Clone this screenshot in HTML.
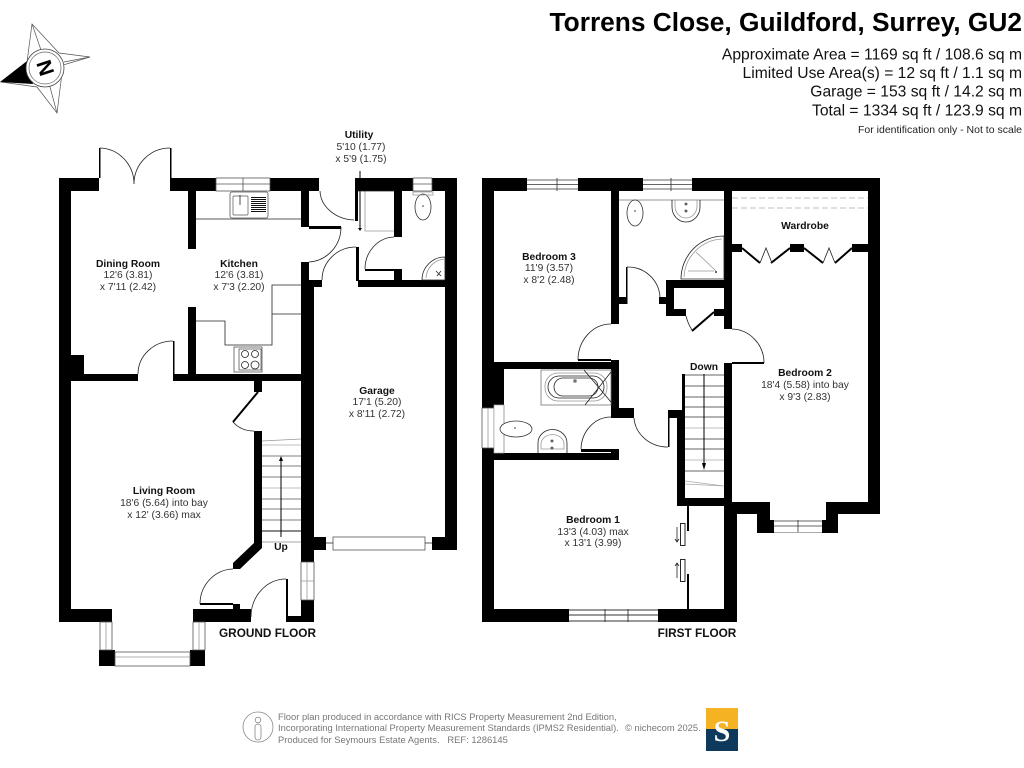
<!DOCTYPE html>
<html><head><meta charset="utf-8">
<style>
html,body{margin:0;padding:0;background:#fff}
svg{display:block}
text{font-family:"Liberation Sans",sans-serif;fill:#222}
.r text{font-size:10.3px;text-anchor:middle;fill:#333}
.b{font-weight:bold;fill:#111!important}
.h text{font-size:15.65px;text-anchor:end;fill:#111}
.f text{font-size:9.4px;fill:#777}
.w rect,.w polygon{fill:#000}
.t{fill:none;stroke:#222;stroke-width:.8}
.g{fill:none;stroke:#999;stroke-width:.8}
.k{fill:none;stroke:#000;stroke-width:1}
.win{fill:#fff;stroke:#555;stroke-width:.8}
</style></head><body>
<svg width="1024" height="768" viewBox="0 0 1024 768" xmlns="http://www.w3.org/2000/svg">
<rect width="1024" height="768" fill="#fff"/>

<!-- Title -->
<text x="1022" y="31" text-anchor="end" font-size="26.3" font-weight="bold" style="fill:#000">Torrens Close, Guildford, Surrey, GU2</text>
<g class="h">
<text x="1022" y="59.5">Approximate Area = 1169 sq ft / 108.6 sq m</text>
<text x="1022" y="78">Limited Use Area(s) = 12 sq ft / 1.1 sq m</text>
<text x="1022" y="96.500">Garage = 153 sq ft / 14.2 sq m</text>
<text x="1022" y="115.500">Total = 1334 sq ft / 123.9 sq m</text>
</g>
<text x="1022" y="133" text-anchor="end" font-size="10.5" fill="#222">For identification only - Not to scale</text>

<!-- Compass -->
<g fill="none" stroke="#555" stroke-width=".7">
<polygon points="32,24 59,53 90,57 63,65 57,113 37,87 1,82 27,62"/>
<line x1="32" y1="24" x2="41" y2="50"/><line x1="90" y1="57" x2="64" y2="62"/><line x1="57" y1="113" x2="50" y2="87"/>
</g>
<polygon points="0,82 27,61 33,84" fill="#000"/>
<circle cx="45" cy="68" r="19" fill="#fff" stroke="#444" stroke-width=".8"/>
<circle cx="45" cy="68" r="16" fill="#fff" stroke="#666" stroke-width=".7"/>
<text x="0" y="0" font-size="21" font-weight="bold" text-anchor="middle" transform="translate(45,68) rotate(-108) translate(0,7.500)" style="fill:#000">N</text>

<!-- GROUND FLOOR WALLS -->
<g class="w">
<rect x="59" y="178" width="12" height="444"/>
<rect x="59" y="178" width="40" height="13"/>
<rect x="170" y="178" width="149" height="13"/>
<rect x="355" y="178" width="102" height="13"/>
<rect x="445" y="178" width="12" height="372"/>
<rect x="188" y="191" width="8" height="58"/>
<rect x="188" y="307" width="8" height="67"/>
<rect x="301" y="191" width="8" height="36"/>
<rect x="309" y="226" width="32" height="3"/>
<rect x="301" y="262" width="8" height="25"/>
<rect x="301" y="280" width="21" height="7"/>
<rect x="301" y="287" width="13" height="275"/>
<rect x="355" y="191" width="3" height="30"/>
<rect x="356" y="247" width="3" height="34"/>
<rect x="358" y="280" width="99" height="7"/>
<rect x="394" y="191" width="8" height="46"/>
<rect x="394" y="269" width="8" height="11"/>
<rect x="365" y="269" width="30" height="2"/>
<rect x="99" y="148" width="1.5" height="30"/>
<rect x="170" y="148" width="1.5" height="30"/>
<rect x="83" y="374" width="55" height="7"/>
<rect x="71" y="355" width="13" height="26"/>
<rect x="174" y="374" width="127" height="7"/>
<rect x="173" y="341" width="1.5" height="40"/>
<rect x="254" y="381" width="8" height="11"/>
<polygon points="254,431 262,431 262,548 240,569 233,569 233,563 254,543"/>
<rect x="59" y="609" width="53" height="13"/>
<rect x="193" y="609" width="58" height="13"/>
<rect x="200" y="603" width="33" height="2"/>
<rect x="233" y="604" width="7" height="5"/>
<rect x="286" y="579" width="2" height="38"/>
<rect x="286" y="616" width="28" height="6"/>
<rect x="301" y="600" width="13" height="22"/>
<rect x="99" y="650" width="16" height="16"/>
<rect x="190" y="650" width="15" height="16"/>
<rect x="314" y="537" width="12" height="13"/>
<rect x="432" y="537" width="25" height="13"/>
</g>
<!-- ground windows -->
<rect x="216" y="178" width="54" height="13" class="win"/><path d="M216 184H270M243 178V191" stroke="#555" stroke-width=".8"/>
<rect x="413" y="178" width="19" height="13" class="win"/><path d="M413 184H432" stroke="#555" stroke-width=".8"/>
<rect x="301" y="562" width="13" height="38" class="win"/><path d="M307 562V600M301 581H314" class="g"/>
<rect x="333" y="537" width="92" height="13" class="win"/><path d="M326 543H333M425 543H432" class="t"/>
<rect x="100" y="622" width="12" height="28" class="win"/><path d="M106 622V650" class="g"/>
<rect x="193" y="622" width="12" height="28" class="win"/><path d="M199 622V650" class="g"/>
<rect x="115" y="652" width="75" height="14" class="win"/><path d="M115 657H190" class="g"/>

<!-- ground door arcs -->
<path d="M100 148A35 36 0 0 1 134 184M170 148A36 36 0 0 0 134 184" class="t"/>
<path d="M320 191A36 30 0 0 0 354 220" class="t"/>
<path d="M341 227A34 35 0 0 1 309 262" class="t"/>
<path d="M356 247A34 33 0 0 0 322 280" class="t"/>
<path d="M394 237A30 32 0 0 0 365 269" class="t"/>
<path d="M173 341A35 33 0 0 0 138 374" class="t"/>
<path d="M233 422Q241 431 254 431" class="t"/>
<path d="M233 569A34 35 0 0 0 200 604" class="t"/>
<path d="M286 579A35 38 0 0 0 251 617" class="t"/>
<line x1="258" y1="392" x2="233" y2="422" stroke="#000" stroke-width="2"/>

<!-- Utility arrow and cupboard -->
<path d="M360 171V229" class="k"/><polygon points="358,228 362,228 360,231" fill="#000"/>
<path d="M365 191V231H394" class="g"/>
<path d="M358 191H394" class="t"/>

<!-- kitchen fittings -->
<path d="M196 219H301" class="t"/>
<rect x="230" y="192" width="38" height="26" rx="2" fill="#fff" stroke="#555" stroke-width=".8"/>
<rect x="233" y="196" width="15" height="19" rx="1" fill="#fff" stroke="#555" stroke-width=".7"/>
<path d="M251 197.500H266M251 199.500H266M251 201.500H266M251 203.500H266M251 205.500H266M251 207.500H266M251 209.500H266M251 211.500H266" stroke="#111" stroke-width="1"/>
<path d="M240 195V205" class="t"/>
<path d="M196 321H225V345H272V285H301M272 314H301" class="t"/>
<rect x="234" y="347" width="28" height="25" fill="#fff" stroke="#555" stroke-width=".8"/>
<rect x="239" y="349" width="22" height="21" fill="none" stroke="#444" stroke-width=".7"/>
<circle cx="245" cy="354" r="3.5" class="t"/><circle cx="255" cy="354" r="3.5" class="t"/>
<circle cx="245" cy="365" r="3.5" class="t"/><circle cx="255" cy="365" r="4" class="t"/>
<!-- WC utility -->
<ellipse cx="423" cy="207" rx="8" ry="13" fill="#fff" stroke="#333" stroke-width=".8"/>
<path d="M413 192H433V195H413Z" class="g"/><circle cx="423" cy="206" r=".8" fill="#333"/>
<path d="M445 257A23 23 0 0 0 422 280H445Z" class="t"/>
<path d="M445 259A20 20 0 0 0 426 278" class="g"/><path d="M436 271L441 276M441 271L437 276" class="t"/>

<!-- ground stairs -->
<path d="M262 441L301 439" class="g"/>
<path d="M262 445H301M262 488H301" stroke="#aaa" stroke-width=".8"/>
<path d="M262 456H301M262 466H301M262 477H301M262 499H301M262 509H301M262 520H301" stroke="#555" stroke-width=".7"/>
<path d="M262 531H301" stroke="#111" stroke-width=".9"/>
<path d="M262 542H301" stroke="#888" stroke-width=".7"/>
<path d="M281 537V458" class="k"/><polygon points="279,461 283,461 281,456" fill="#000"/>

<!-- FIRST FLOOR WALLS -->
<g class="w">
<rect x="482" y="178" width="398" height="13"/>
<rect x="482" y="178" width="12" height="230"/>
<rect x="482" y="448" width="12" height="174"/>
<rect x="868" y="178" width="12" height="336"/>
<rect x="611" y="191" width="8" height="133"/>
<rect x="611" y="297" width="16" height="7"/>
<rect x="626" y="267" width="1.5" height="37"/>
<rect x="659" y="297" width="8" height="7"/>
<rect x="666" y="280" width="8" height="36"/>
<rect x="666" y="280" width="58" height="8"/>
<rect x="666" y="309" width="20" height="7"/>
<rect x="714" y="309" width="10" height="7"/>
<rect x="724" y="191" width="8" height="138"/>
<rect x="724" y="363" width="8" height="143"/>
<rect x="724" y="506" width="13" height="116"/>
<rect x="732" y="362" width="32" height="2"/>
<rect x="482" y="362" width="137" height="7"/>
<rect x="482" y="362" width="22" height="43"/>
<rect x="611" y="360" width="8" height="58"/>
<rect x="578" y="359" width="33" height="2"/>
<rect x="619" y="408" width="15" height="10"/>
<rect x="668" y="413" width="1.5" height="34"/>
<rect x="668" y="410" width="10" height="8"/>
<rect x="677" y="410" width="8" height="96"/>
<rect x="682" y="374" width="3" height="37"/>
<rect x="677" y="498" width="47" height="8"/>
<rect x="482" y="453" width="137" height="7"/>
<rect x="611" y="449" width="8" height="11"/>
<rect x="581" y="449" width="30" height="3"/>
<rect x="687" y="506" width="2" height="25"/>
<rect x="687" y="574" width="2" height="35"/>
<rect x="482" y="609" width="255" height="13"/>
<rect x="732" y="502" width="38" height="12"/>
<rect x="826" y="502" width="54" height="12"/>
<rect x="757" y="514" width="13" height="6"/>
<rect x="826" y="514" width="12" height="6"/>
<rect x="757" y="520" width="17" height="13"/>
<rect x="822" y="520" width="16" height="13"/>
<rect x="732" y="244" width="10" height="8"/>
<rect x="790" y="244" width="14" height="8"/>
<rect x="852" y="244" width="16" height="8"/>
</g>
<!-- first windows -->
<rect x="527" y="178" width="51" height="13" fill="#fff"/><path d="M527 180H578M527 184.500H578M527 189H578M557 178V191" stroke="#333" stroke-width=".8"/>
<rect x="643" y="178" width="49" height="13" fill="#fff"/><path d="M643 180H692M643 184.500H692M643 189H692M671 178V191" stroke="#333" stroke-width=".8"/>
<rect x="569" y="609" width="89" height="13" fill="#fff"/><path d="M569 610H658M569 615H658M569 621H658M605 609V622M628 609V622" stroke="#333" stroke-width=".9"/>
<rect x="774" y="520" width="48" height="13" fill="#fff"/><path d="M774 521H822M774 526H822M798 520V533" stroke="#333" stroke-width=".8"/><path d="M774 532.500H822" stroke="#aaa"/>
<rect x="482" y="408" width="12" height="40" class="win"/><path d="M488 408V448" class="g"/>
<rect x="494" y="405" width="10" height="48" fill="#fff" stroke="#aaa" stroke-width=".7"/>

<!-- first door arcs -->
<path d="M627 267A32 32 0 0 1 660 297" class="t"/>
<path d="M611 324A33 36 0 0 0 578 360" class="t"/>
<path d="M732 329A33 34 0 0 1 764 363" class="t"/>
<path d="M634 418A34 31 0 0 0 668 447" class="t"/>
<path d="M611 417A30 33 0 0 0 581 449" class="t"/>
<path d="M686 316Q688 324 692 330" class="t"/>
<line x1="714" y1="312" x2="692" y2="331" stroke="#000" stroke-width="2"/>
<!-- wardrobe -->
<path d="M732 198H868M732 208H868" stroke="#aaa" stroke-width=".8" stroke-dasharray="6 3"/>
<path d="M742 248L760 263M771 263L790 248M804 248L823 263M835 263L852 248" stroke="#000" stroke-width="2" fill="none"/>
<path d="M760 263L766 248L772 263M823 263L829 248L835 263" class="t"/>
<!-- en-suite -->
<path d="M619 200H724" stroke="#aaa" stroke-width="1.2"/>
<ellipse cx="635" cy="213" rx="8" ry="13" fill="#fff" stroke="#333" stroke-width=".8"/><circle cx="635" cy="211" r=".8" fill="#333"/>
<path d="M672 200V207A14 15 0 0 0 700 207V200" class="t"/><path d="M675 200V206A11 12 0 0 0 697 206V200" class="g"/>
<circle cx="686" cy="204" r="1" class="t"/><circle cx="686" cy="211" r="1" class="t"/>
<path d="M724 236A43 43 0 0 0 681 279H724Z" class="t"/><path d="M722 239A40 40 0 0 0 684 277" class="g"/>
<path d="M696 252L716 271M688 271H714" class="g"/><circle cx="716" cy="272" r="1" fill="#333"/>
<!-- bathroom -->
<path d="M504 453V405" class="g"/>
<rect x="541" y="370" width="70" height="35" fill="#fff" stroke="#777" stroke-width=".8"/>
<rect x="545" y="373" width="62" height="28" rx="13" class="g"/>
<rect x="548" y="376" width="56" height="22" rx="11" class="t"/>
<rect x="554" y="378" width="44" height="18" rx="9" class="t"/>
<path d="M584 370L611 402M611 372L585 405" class="t"/>
<rect x="574" y="380" width="2" height="2" class="t"/>
<ellipse cx="516" cy="429" rx="16" ry="8" fill="#fff" stroke="#333" stroke-width=".8"/><circle cx="515" cy="428" r=".8" fill="#333"/>
<path d="M538 453V443A14 13 0 0 1 567 443V453" class="t"/><path d="M541 449V444A11 9 0 0 1 564 444V449H541" class="g"/>
<circle cx="552" cy="441" r="1" class="t"/><circle cx="552" cy="448" r="1" class="t"/>
<!-- first stairs -->
<path d="M685 375H724" stroke="#333" stroke-width=".8"/>
<path d="M685 386H724M685 397H724M685 407H724M685 417H724M685 439H724M685 449H724M685 471H724" stroke="#333" stroke-width=".8"/>
<path d="M685 428H724M685 460H724" stroke="#aaa" stroke-width=".8"/>
<path d="M685 481L724 486M685 484L724 486" stroke="#aaa" stroke-width=".8"/>
<path d="M704 374V466" class="k"/><polygon points="702,463 706,463 704,470" fill="#000"/>
<!-- sliding -->
<rect x="680.500" y="523.500" width="4.500" height="22" fill="#fff" stroke="#111" stroke-width=".9"/>
<rect x="680.500" y="559.500" width="4.500" height="22" fill="#fff" stroke="#111" stroke-width=".9"/>
<path d="M677 527V542M675 539L677 542L679 539M677 578V563M675 566L677 563L679 566" class="t"/>

<!-- labels -->
<g class="r">
<text x="128" y="267" class="b">Dining Room</text><text x="128" y="278">12'6 (3.81)</text><text x="128" y="290">x 7'11 (2.42)</text>
<text x="239" y="267" class="b">Kitchen</text><text x="239" y="278">12'6 (3.81)</text><text x="239" y="290">x 7'3 (2.20)</text>
<text x="359" y="138" class="b">Utility</text><text x="361" y="150">5'10 (1.77)</text><text x="361" y="162">x 5'9 (1.75)</text>
<text x="377" y="394" class="b">Garage</text><text x="377" y="405">17'1 (5.20)</text><text x="377" y="417">x 8'11 (2.72)</text>
<text x="164" y="494" class="b">Living Room</text><text x="164" y="506">18'6 (5.64) into bay</text><text x="164" y="518">x 12' (3.66) max</text>
<text x="281" y="550" class="b">Up</text>
<text x="549" y="260" class="b">Bedroom 3</text><text x="549" y="271">11'9 (3.57)</text><text x="549" y="283">x 8'2 (2.48)</text>
<text x="805" y="229" class="b">Wardrobe</text>
<text x="704" y="370" class="b">Down</text>
<text x="805" y="376" class="b">Bedroom 2</text><text x="805" y="388">18'4 (5.58) into bay</text><text x="805" y="400">x 9'3 (2.83)</text>
<text x="593" y="523" class="b">Bedroom 1</text><text x="593" y="535">13'3 (4.03) max</text><text x="593" y="546">x 13'1 (3.99)</text>
</g>
<text x="267.500" y="637" text-anchor="middle" font-size="11.800" font-weight="bold" style="fill:#111">GROUND FLOOR</text>
<text x="697" y="637" text-anchor="middle" font-size="11.800" font-weight="bold" style="fill:#111">FIRST FLOOR</text>

<!-- footer -->
<circle cx="258" cy="727" r="15" fill="none" stroke="#888" stroke-width=".8"/>
<circle cx="258" cy="720" r="2.800" fill="none" stroke="#888" stroke-width=".8"/>
<rect x="255" y="724" width="6" height="16" rx="3" fill="none" stroke="#888" stroke-width=".8"/>
<g class="f">
<text x="278" y="720">Floor plan produced in accordance with RICS Property Measurement 2nd Edition,</text>
<text x="278" y="731">Incorporating International Property Measurement Standards (IPMS2 Residential).</text>
<text x="278" y="743">Produced for Seymours Estate Agents.&#160;&#160;&#160;REF: 1286145</text>
<text x="625" y="731">© nichecom 2025.</text>
</g>
<rect x="706" y="708" width="32" height="21" fill="#f5b324"/>
<rect x="706" y="729" width="32" height="22" fill="#0d3a5c"/>
<text x="722" y="741" text-anchor="middle" font-size="30" font-weight="bold" style="font-family:'Liberation Serif',serif;fill:#fff">S</text>
</svg>
</body></html>
